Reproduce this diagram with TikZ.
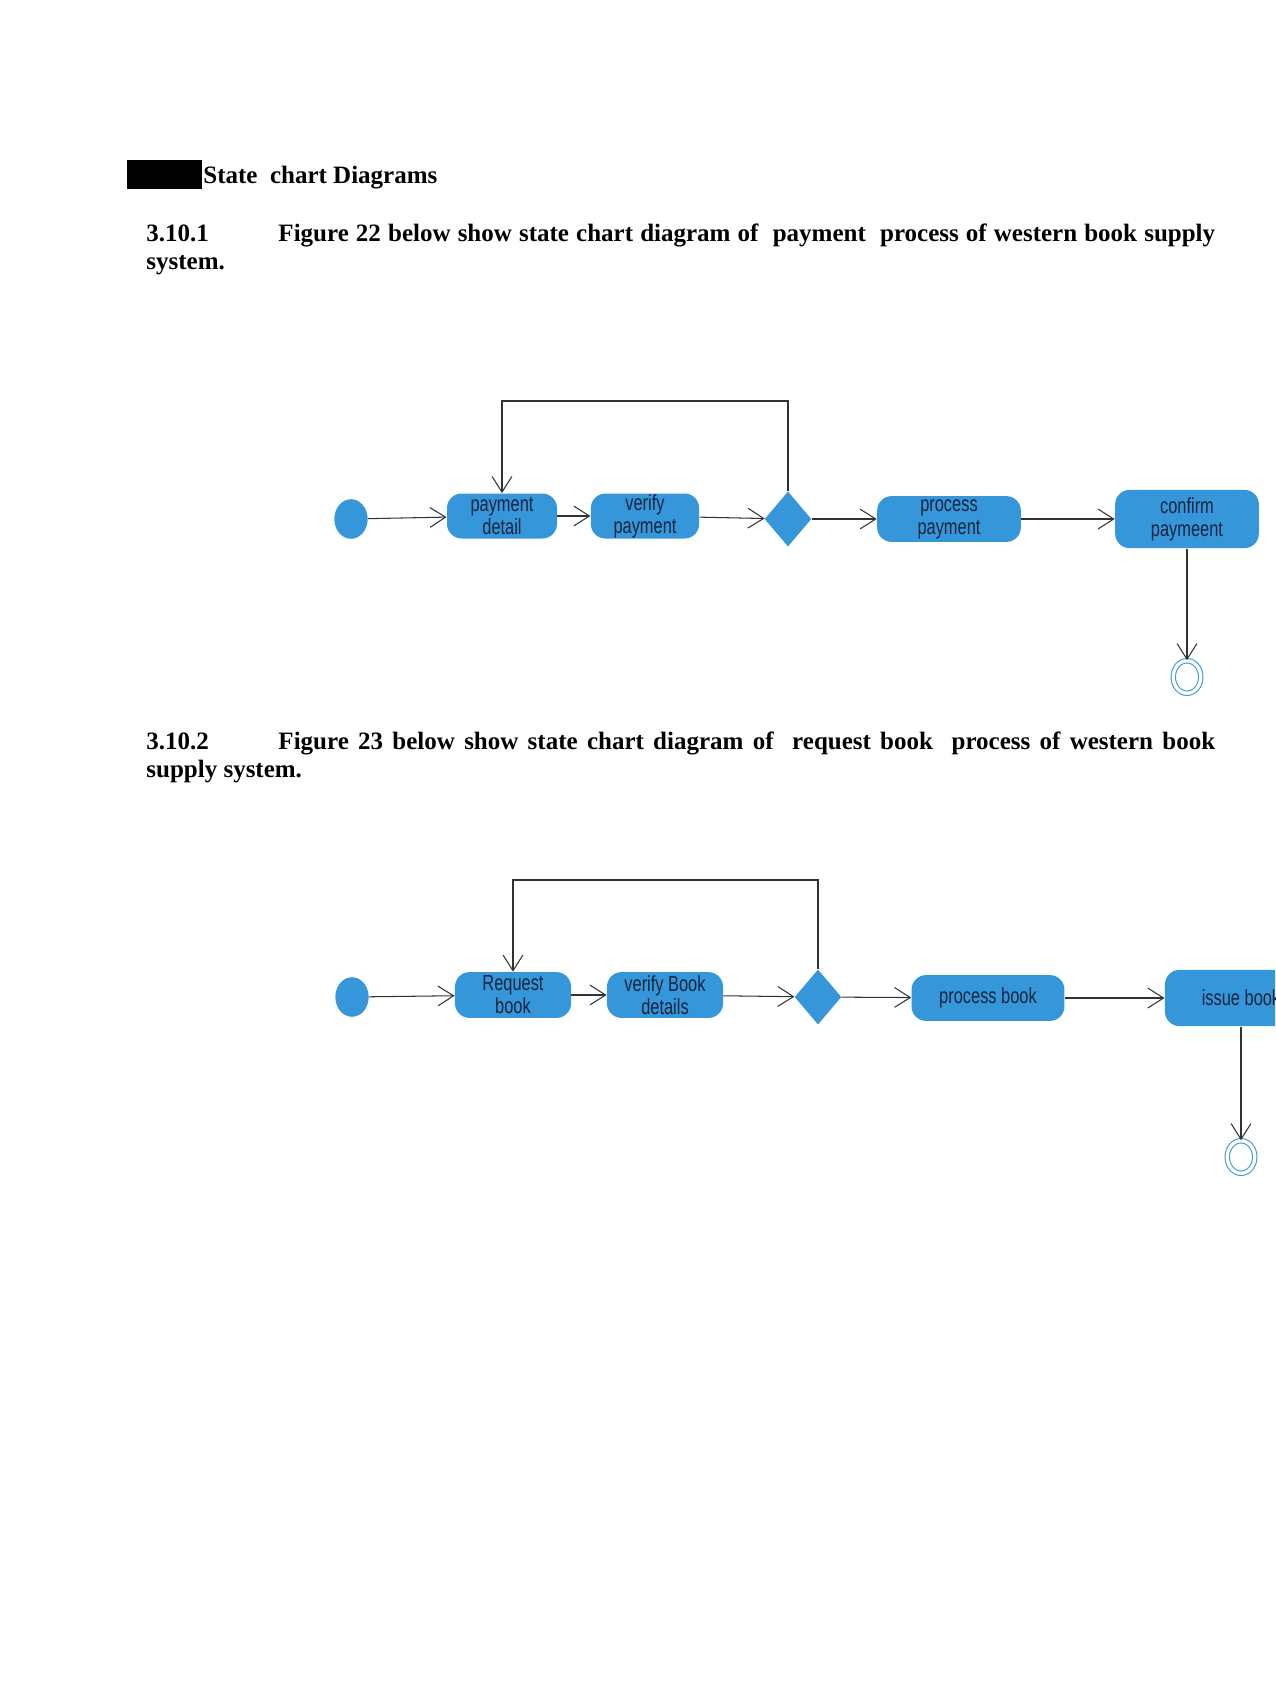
\documentclass[tikz,border=0pt]{standalone}
\usepackage{fontspec}
\setmainfont{Liberation Serif}
\newfontfamily\boxfont[FakeStretch=0.75]{Liberation Sans}
\usetikzlibrary{shapes.geometric,arrows.meta}
\definecolor{stateblue}{RGB}{54,150,218}
\definecolor{statetext}{RGB}{22,36,62}
\definecolor{flowgrey}{RGB}{50,50,50}
\tikzset{
  state/.style={rectangle, rounded corners=7pt, fill=stateblue, text=statetext,
    font=\boxfont\fontsize{10.5}{11}\selectfont, align=center, inner sep=0pt,
    minimum height=21.6pt},
  init/.style={ellipse, fill=stateblue, minimum width=16pt, minimum height=19pt, inner sep=0pt},
  choice/.style={diamond, fill=stateblue, minimum width=22.5pt, minimum height=26.5pt, inner sep=0pt},
  final/.style={ellipse, draw=stateblue, double=white, double distance=1.6pt, line width=0.5pt,
    minimum width=13.2pt, minimum height=15.6pt, inner sep=0pt},
  flow/.style={draw=flowgrey, line width=0.5pt, -{Straight Barb[length=7.5pt,width=9.5pt]}},
  para/.style={anchor=base west, inner sep=0pt, text width=513pt, align=justify,
    font=\bfseries\fontsize{12}{13.5}\selectfont},
}
\begin{document}
\begin{tikzpicture}[x=0.48pt, y=-0.48pt]
\useasboundingbox (0,0) rectangle (1275,1703);
\clip (0,0) rectangle (1275,1703);
% heading
\fill (127,160) rectangle (202,189);
\node[anchor=base west, inner sep=0pt, font=\bfseries\fontsize{12}{13.5}\selectfont] (head) at (203,183) {State\ \ chart Diagrams};
\node[para] (p1) at (146,241) {\makebox[63.4pt][l]{3.10.1}Figure 22 below show state chart diagram of\ \ payment\ \ process of western book supply\linebreak system.};
\node[para] (p2) at (146,749) {\makebox[63.4pt][l]{3.10.2}Figure 23 below show state chart diagram of\ \ request book\ \ process of western book\linebreak supply system.};

% payment process
\node[init] (s1) at (351,519) {};
\node[state, minimum width=52.8pt] (pd) at (502,516) {payment\\detail};
\node[state, minimum width=52pt] (vp) at (645,516) {verify\\payment};
\node[choice] (c1) at (788,519) {};
\node[state, minimum width=69pt, minimum height=22pt] (pp) at (949,519) {process\\payment};
\node[state, minimum width=69pt, minimum height=28pt] (cp) at (1187,519) {confirm\\paymeent};
\node[final] (e1) at (1187,677) {};
\draw[flow] (s1) -- (pd);
\draw[flow] (pd) -- (vp);
\draw[flow] (vp) -- (c1);
\draw[flow] (c1) -- (pp);
\draw[flow] (pp) -- (cp);
\draw[flow] (cp) -- (e1);
\draw[flow] (c1.north) -- ++(0,-90) -| (pd.north);

% request book process
\node[init] (s2) at (352,997) {};
\node[state, minimum width=55.7pt, minimum height=22pt] (rb) at (513,995) {Request\\book};
\node[state, minimum width=55.7pt, minimum height=22pt] (vb) at (665,995) {verify Book\\details};
\node[choice] (c2) at (818,997) {};
\node[state, minimum width=73.4pt, minimum height=22pt] (pb) at (988,998) {process book};
\node[state, minimum width=73pt, minimum height=27pt] (ib) at (1241,998) {issue book};
\node[final] (e2) at (1241,1157) {};
\draw[flow] (s2) -- (rb);
\draw[flow] (rb) -- (vb);
\draw[flow] (vb) -- (c2);
\draw[flow] (c2) -- (pb);
\draw[flow] (pb) -- (ib);
\draw[flow] (ib) -- (e2);
\draw[flow] (c2.north) -- ++(0,-89) -| (rb.north);
\end{tikzpicture}
\end{document}
